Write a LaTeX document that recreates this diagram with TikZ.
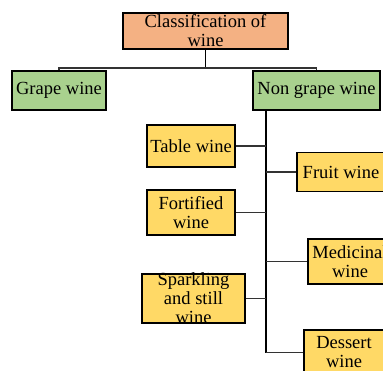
\documentclass[tikz,border=0pt]{standalone}
\usepackage{fontspec}
\setmainfont{Liberation Serif}
\definecolor{cOrange}{HTML}{F4B183}
\definecolor{cGreen}{HTML}{A9D18E}
\definecolor{cYellow}{HTML}{FFD966}
\tikzset{
  wbox/.style={draw, line width=1.8bp, inner sep=0pt},
  wtext/.style={align=center, inner sep=0pt, font=\fontsize{18.5bp}{19bp}\selectfont},
  conn/.style={line width=1.1bp, draw=black!80},
  trunkline/.style={line width=1.6bp}
}

\begin{document}
\begin{tikzpicture}[x=1bp,y=-1bp]
  \useasboundingbox (0,0) rectangle (383,371);
  % top level
  \node[wbox, fill=cOrange, minimum width=165bp, minimum height=36bp,
    label={[wtext]center:{Classification of\\wine}}] (title) at (205.5,31) {};
  \node[wbox, fill=cGreen, minimum width=94bp, minimum height=39bp,
    label={[wtext]center:Grape wine}] (grape) at (59,90.5) {};
  \node[wbox, fill=cGreen, minimum width=127bp, minimum height=39bp,
    label={[wtext]center:Non grape wine}] (nongrape) at (316.5,90.5) {};
  % non grape kinds, left side
  \node[wbox, fill=cYellow, minimum width=88bp, minimum height=42bp,
    label={[wtext]center:Table wine}] (table) at (191,146) {};
  \node[wbox, fill=cYellow, minimum width=88bp, minimum height=45bp,
    label={[wtext]center:{Fortified\\wine}}] (fortified) at (191,212.5) {};
  \node[wbox, fill=cYellow, minimum width=103bp, minimum height=49bp,
    label={[wtext]center:{Sparkling\\and still\\wine}}] (sparkling) at (193.5,298.5) {};
  % non grape kinds, right side
  \node[wbox, fill=cYellow, minimum width=88bp, minimum height=39bp,
    label={[wtext]center:Fruit wine}] (fruit) at (341,172) {};
  \node[wbox, fill=cYellow, minimum width=84bp, minimum height=45bp,
    label={[wtext]center:{Medicinal\\wine}}] (medicinal) at (350,261.5) {};
  \node[wbox, fill=cYellow, minimum width=80bp, minimum height=45bp,
    label={[wtext]center:{Dessert\\wine}}] (dessert) at (344,352.5) {};

  \coordinate (split) at (205.5,68);
  \coordinate (trunk) at (266,110);
  \draw[trunkline] (title.south) -- (split);
  \draw[conn] (grape.north) -- (grape.north |- split) -- (nongrape.north |- split) -- (nongrape.north);
  \draw[trunkline] (trunk) -- (trunk |- dessert.west);
  \draw[conn] (table.east) -- (table.east -| trunk);
  \draw[conn] (fortified.east) -- (fortified.east -| trunk);
  \draw[conn] (sparkling.east) -- (sparkling.east -| trunk);
  \draw[conn] (fruit.west) -- (fruit.west -| trunk);
  \draw[conn] (medicinal.west) -- (medicinal.west -| trunk);
  \draw[conn] (dessert.west) -- (dessert.west -| trunk);
\end{tikzpicture}
\end{document}
